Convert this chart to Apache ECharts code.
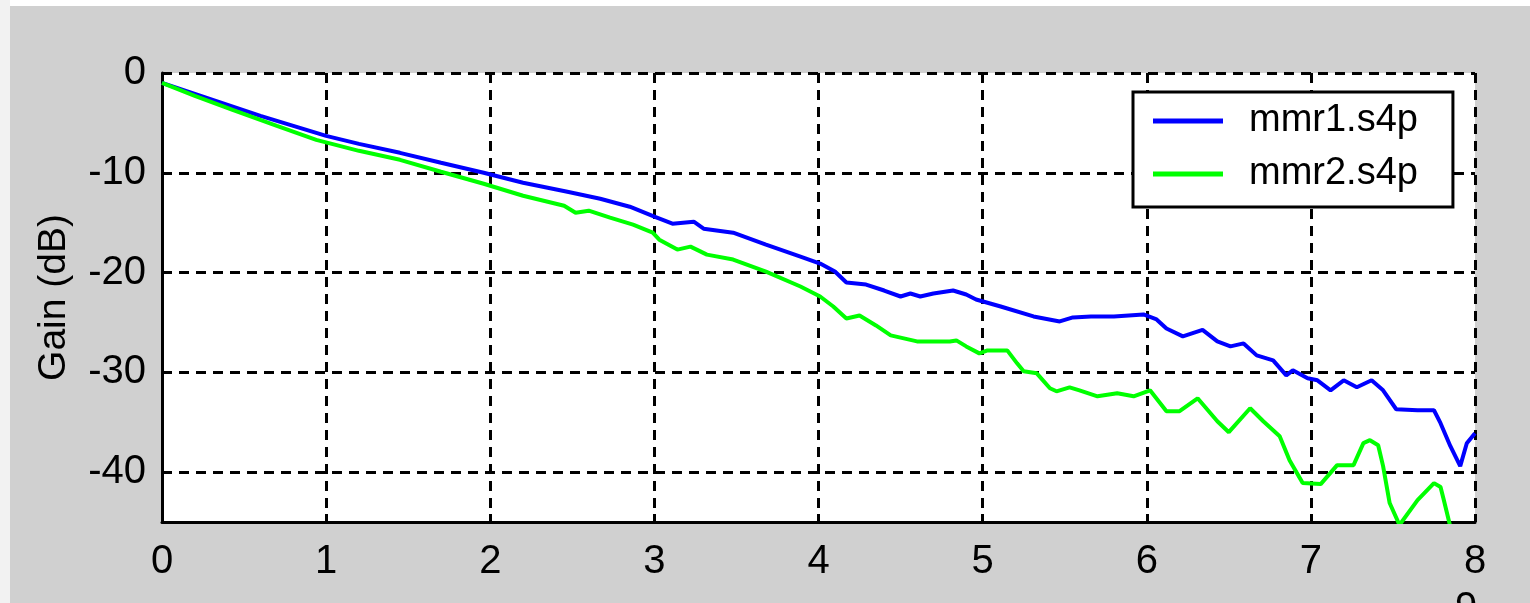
<!DOCTYPE html>
<html>
<head>
<meta charset="utf-8">
<script src="https://cdn.jsdelivr.net/npm/echarts@6/dist/echarts.min.js"></script>
<style>
html,body{margin:0;padding:0;background:#ffffff;}
#chart{width:1530px;height:603px;}
</style>
</head>
<body>
<div id="chart"></div>
<script>
// Frequency (GHz) and gain (dB)
const mmr1Freq = [0,0.2,0.4,0.6,0.8,1.0,1.2,1.45,1.7,1.96,2.2,2.47,2.67,2.85,3.0,3.11,3.24,3.3,3.48,3.68,3.89,4.01,4.1,4.17,4.29,4.4,4.5,4.56,4.62,4.7,4.82,4.9,4.96,5.11,5.31,5.47,5.55,5.66,5.8,5.98,6.06,6.12,6.22,6.34,6.43,6.51,6.59,6.67,6.77,6.85,6.89,6.98,7.04,7.12,7.2,7.28,7.37,7.44,7.52,7.65,7.75,7.79,7.85,7.91,7.95,8.0];
const mmr1Gain = [-1.0,-2.1,-3.2,-4.3,-5.3,-6.3,-7.1,-8.0,-9.0,-10.0,-11.0,-11.9,-12.6,-13.4,-14.4,-15.1,-14.9,-15.6,-16.0,-17.2,-18.4,-19.1,-19.9,-21.0,-21.2,-21.8,-22.4,-22.1,-22.4,-22.1,-21.8,-22.2,-22.7,-23.4,-24.4,-24.9,-24.5,-24.4,-24.4,-24.2,-24.7,-25.6,-26.4,-25.75,-26.9,-27.4,-27.1,-28.3,-28.8,-30.3,-29.8,-30.6,-30.8,-31.8,-30.8,-31.5,-30.8,-31.8,-33.7,-33.8,-33.8,-35.1,-37.4,-39.4,-37.1,-36.1];
const mmr2Freq = [0,0.2,0.43,0.7,0.94,1.2,1.45,1.7,1.96,2.2,2.45,2.52,2.6,2.73,2.87,2.99,3.03,3.14,3.22,3.32,3.48,3.68,3.89,4.01,4.09,4.17,4.25,4.35,4.44,4.6,4.8,4.84,4.9,4.98,5.03,5.15,5.21,5.25,5.33,5.41,5.45,5.53,5.59,5.7,5.82,5.92,6.02,6.12,6.2,6.31,6.43,6.5,6.63,6.71,6.81,6.87,6.95,7.06,7.16,7.26,7.32,7.36,7.41,7.44,7.48,7.54,7.65,7.75,7.79,7.81,7.85,7.9,8.0];
const mmr2Gain = [-1.0,-2.3,-3.7,-5.3,-6.7,-7.8,-8.7,-9.9,-11.1,-12.3,-13.3,-14.0,-13.8,-14.5,-15.2,-16.0,-16.7,-17.7,-17.4,-18.2,-18.7,-19.9,-21.4,-22.4,-23.4,-24.6,-24.3,-25.3,-26.3,-26.9,-26.9,-26.8,-27.4,-28.1,-27.8,-27.8,-29.1,-29.9,-30.1,-31.6,-31.9,-31.5,-31.8,-32.4,-32.1,-32.4,-31.8,-33.9,-33.9,-32.6,-34.9,-36.0,-33.6,-34.9,-36.4,-38.8,-41.1,-41.2,-39.3,-39.3,-37.1,-36.8,-37.3,-39.4,-43.1,-45.3,-42.8,-41.1,-41.5,-42.8,-45.5,-48.0,-50.0];
const seriesNames = ['mmr1.s4p','mmr2.s4p'];
const xTicks = [0,1,2,3,4,5,6,7,8];
const yTicks = [-40,-30,-20,-10,0];

const zip = (a,b) => a.map((v,i)=>[v,b[i]]);
const FONT = "'Liberation Sans', Arial, sans-serif";

const chart = echarts.init(document.getElementById('chart'), null, {renderer:'canvas'});
const dashed = {show:true, lineStyle:{color:'#000', width:3, type:[10,7]}};
chart.setOption({
  animation:false,
  backgroundColor:'#d0d0d0',
  graphic:[
    {type:'rect', shape:{x:0,y:0,width:1530,height:6}, style:{fill:'#ffffff'}, silent:true, z:-1},
    {type:'rect', shape:{x:0,y:0,width:10,height:603}, style:{fill:'#f2f2f2'}, silent:true, z:-1},
    {type:'text', left:1455, top:589, style:{text:'9', font:"40px "+FONT, fill:'#000'}, silent:true}
  ],
  grid:{left:162, right:55, top:73, bottom:81, show:true, backgroundColor:'#ffffff', borderWidth:0},
  legend:{
    orient:'vertical', left:1133, top:92,
    data:seriesNames,
    icon:'rect', itemWidth:70, itemHeight:5, itemGap:13,
    padding:[9,35,13,20],
    backgroundColor:'#ffffff', borderColor:'#000', borderWidth:3, borderRadius:0,
    textStyle:{fontFamily:FONT, fontSize:38, color:'#000', lineHeight:40, padding:[0,0,0,21]}
  },
  xAxis:{
    type:'value', min:0, max:8, interval:1,
    axisLine:{show:true, onZero:false, lineStyle:{color:'#000', width:3}},
    axisTick:{show:true, inside:true, length:8, lineStyle:{color:'#000', width:3}},
    axisLabel:{color:'#000', fontFamily:FONT, fontSize:40, margin:20, customValues:xTicks},
    splitLine:dashed
  },
  yAxis:{
    type:'value', min:-45, max:0,
    name:'Gain (dB)', nameLocation:'middle', nameGap:88, nameRotate:90,
    nameTextStyle:{color:'#000', fontFamily:FONT, fontSize:39},
    axisLine:{show:true, onZero:false, lineStyle:{color:'#000', width:3}},
    axisTick:{show:true, inside:true, length:8, lineStyle:{color:'#000', width:3}, customValues:yTicks},
    axisLabel:{color:'#000', fontFamily:FONT, fontSize:40, margin:16, customValues:yTicks},
    splitLine:dashed
  },
  series:[
    {name:seriesNames[0], type:'line', data:zip(mmr1Freq,mmr1Gain), showSymbol:false, clip:true,
     lineStyle:{color:'#0000ff', width:4}, itemStyle:{color:'#0000ff'}, z:3},
    {name:seriesNames[1], type:'line', data:zip(mmr2Freq,mmr2Gain), showSymbol:false, clip:true,
     lineStyle:{color:'#00ff00', width:4}, itemStyle:{color:'#00ff00'}, z:4}
  ]
});
</script>
</body>
</html>
